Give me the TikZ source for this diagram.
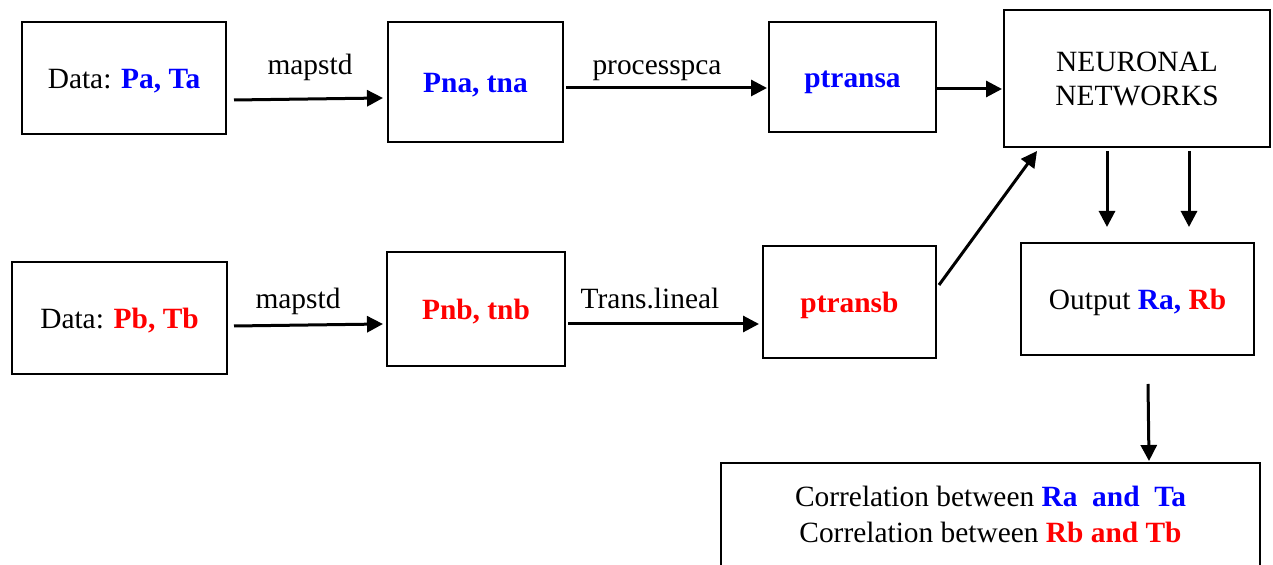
\documentclass[tikz,border=0pt]{standalone}
\usepackage{fontspec}
\setmainfont{Liberation Serif}
\usetikzlibrary{arrows.meta}
\definecolor{ablue}{RGB}{0,0,255}
\definecolor{bred}{RGB}{255,0,0}
\newcommand{\av}[1]{\textcolor{ablue}{\textbf{#1}}}
\newcommand{\bv}[1]{\textcolor{bred}{\textbf{#1}}}

\begin{document}
\begin{tikzpicture}[
            x=0.5pt, y=-0.5pt,
            box/.style={draw, line width=1pt, align=center, inner sep=0pt,
                font=\fontsize{14.7}{17}\selectfont},
            onebox/.style={box, text height=11pt, text depth=0pt},
            lbl/.style={inner sep=0pt, anchor=base, font=\fontsize{14.7}{17}\selectfont},
            flow/.style={-{Triangle[length=8pt,width=8pt]}, line width=1.5pt}
            ]
            \useasboundingbox (0,0) rectangle (1273,565);
            % upper row
            \node[onebox, minimum width=102pt, minimum height=56pt] (dataa) at (124,78) {Data: \av{Pa, Ta}};
            \node[onebox, minimum width=87.5pt, minimum height=60pt] (pna) at (475.5,82) {\av{Pna, tna}};
            \node[onebox, minimum width=83.5pt, minimum height=55pt] (ptransa) at (852.5,77) {\av{ptransa}};
            \node[box, minimum width=133pt, minimum height=68.5pt] (nn) at (1137,78.5) {NEURONAL\\NETWORKS};
            % lower row
            \node[onebox, minimum width=107.5pt, minimum height=56pt] (datab) at (119.5,318) {Data: \bv{Pb, Tb}};
            \node[onebox, minimum width=89pt, minimum height=57pt] (pnb) at (476,309) {\bv{Pnb, tnb}};
            \node[onebox, minimum width=86.5pt, minimum height=56pt] (ptransb) at (849.5,302) {\bv{ptransb}};
            \node[onebox, minimum width=116.5pt, minimum height=56pt] (outp) at (1137.5,299) {Output \av{Ra,} \bv{Rb}};
            \node[box, minimum width=269.5pt, minimum height=51.5pt, font=\fontsize{14.7}{18}\selectfont] (corr) at (990.5,514.5)
                {Correlation between \av{Ra~ and~ Ta}\\Correlation between \bv{Rb and Tb}};
            % labels
            \node[lbl] (lmapa) at (310,75) {mapstd};
            \node[lbl] (lpca) at (657,75) {processpca};
            \node[lbl] (lmapb) at (298,309) {mapstd};
            \node[lbl] (llin) at (650,309) {Trans.lineal};
            % arrows
            \draw[flow] ([xshift=3.5pt,yshift=-11pt]dataa.east) -- ([xshift=-2pt,yshift=-8pt]pna.west);
            \draw[flow] ([xshift=1pt,yshift=-3pt]pna.east) -- ([xshift=-0.5pt,yshift=-5.5pt]ptransa.west);
            \draw[flow] ([yshift=-6pt]ptransa.east) -- ([xshift=-0.5pt,yshift=-5.25pt]nn.west);
            \draw[flow] ([xshift=3pt,yshift=-4pt]datab.east) -- ([xshift=-1.5pt,yshift=-7.5pt]pnb.west);
            \draw[flow] ([xshift=1pt,yshift=-7.5pt]pnb.east) -- ([xshift=-1.5pt,yshift=-11pt]ptransb.west);
            \draw[flow] ([xshift=1pt,yshift=8.5pt]ptransb.east) -- ([xshift=17pt,yshift=-1.5pt]nn.south west);
            \draw[flow] ([xshift=-15pt,yshift=-1.5pt]nn.south) -- ([xshift=-15.25pt,yshift=7.5pt]outp.north);
            \draw[flow] ([xshift=26pt,yshift=-1.5pt]nn.south) -- ([xshift=25.75pt,yshift=7.5pt]outp.north);
            \draw[flow] ([xshift=5.25pt,yshift=-14pt]outp.south) -- ([xshift=-56pt,yshift=0.5pt]corr.north east);
\end{tikzpicture}
\end{document}
